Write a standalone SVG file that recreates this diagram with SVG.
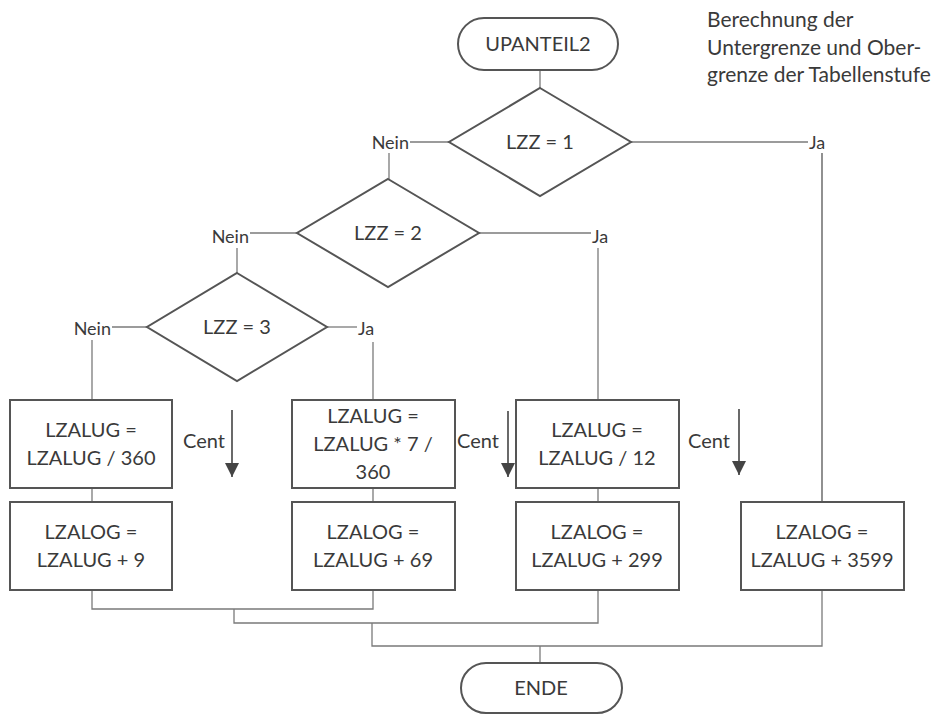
<svg xmlns="http://www.w3.org/2000/svg" width="943" height="715" viewBox="0 0 943 715">
<style>
  .shape { fill: #ffffff; stroke: #555555; stroke-width: 2; }
  .conn { fill: none; stroke: #7a7a7a; stroke-width: 1.3; }
  .t { font-family: Lato, "Open Sans", "Liberation Sans", sans-serif; font-size: 20px; fill: #3a3a3a; text-anchor: middle; }
  .lbl { font-family: Lato, "Open Sans", "Liberation Sans", sans-serif; font-size: 18px; fill: #3a3a3a; }
  .centlbl { font-family: Lato, "Open Sans", "Liberation Sans", sans-serif; font-size: 20px; fill: #3a3a3a; }
  .note { font-family: Lato, "Open Sans", "Liberation Sans", sans-serif; font-size: 21px; fill: #3a3a3a; }
  .cent { fill: none; stroke: #444444; stroke-width: 1.6; }
</style>
<defs>
  <marker id="ahc" viewBox="0 0 14 14" refX="14" refY="7" markerWidth="14" markerHeight="14" markerUnits="userSpaceOnUse" orient="auto">
    <path d="M0,0 L14,7 L0,14 Z" fill="#444444"/>
  </marker>
</defs>
<rect width="943" height="715" fill="#ffffff"/>

<g id="connectors">
  <line class="conn" x1="540" y1="70" x2="540" y2="88"/>
  <line class="conn" x1="410" y1="142" x2="449" y2="142"/>
  <line class="conn" x1="389" y1="153" x2="389" y2="179"/>
  <line class="conn" x1="631" y1="142" x2="808" y2="142"/>
  <line class="conn" x1="822" y1="153" x2="822" y2="502" style="stroke:#555"/>
  <line class="conn" x1="250" y1="233" x2="297" y2="233"/>
  <line class="conn" x1="237" y1="248" x2="237" y2="273"/>
  <line class="conn" x1="479" y1="233" x2="591" y2="233"/>
  <line class="conn" x1="598" y1="248" x2="598" y2="400"/>
  <line class="conn" x1="112" y1="327" x2="147" y2="327"/>
  <line class="conn" x1="92" y1="340" x2="92" y2="400"/>
  <line class="conn" x1="327" y1="327" x2="357" y2="327"/>
  <line class="conn" x1="373" y1="342" x2="373" y2="400"/>
  <line class="conn" x1="92" y1="488" x2="92" y2="502"/>
  <line class="conn" x1="373" y1="488" x2="373" y2="502"/>
  <line class="conn" x1="598" y1="488" x2="598" y2="502"/>
  <polyline class="conn" points="92,590 92,609 373,609 373,590"/>
  <polyline class="conn" points="234,609 234,623 598,623 598,590"/>
  <polyline class="conn" points="372,623 372,646 822,646 822,590"/>
  <line class="conn" x1="540" y1="646" x2="540" y2="663"/>
</g>

<g id="start">
  <rect class="shape" x="458" y="18" width="160" height="52" rx="26"/>
  <text class="t" x="538" y="51">UPANTEIL2</text>
</g>

<g id="note">
  <text class="note" x="707" y="27">Berechnung der</text>
  <text class="note" x="707" y="55">Untergrenze und Ober-</text>
  <text class="note" x="707" y="82">grenze der Tabellenstufe</text>
</g>

<g id="d1">
  <polygon class="shape" points="540,88 631,142 540,196 449,142"/>
  <text class="t" x="540" y="149">LZZ = 1</text>
  <text class="lbl" x="409" y="149" text-anchor="end">Nein</text>
  <text class="lbl" x="809" y="149">Ja</text>
</g>

<g id="d2">
  <polygon class="shape" points="388,179 479,233 388,287 297,233"/>
  <text class="t" x="388" y="240">LZZ = 2</text>
  <text class="lbl" x="249" y="243" text-anchor="end">Nein</text>
  <text class="lbl" x="592" y="243">Ja</text>
</g>

<g id="d3">
  <polygon class="shape" points="237,273 327,327 237,381 147,327"/>
  <text class="t" x="237" y="334">LZZ = 3</text>
  <text class="lbl" x="111" y="335" text-anchor="end">Nein</text>
  <text class="lbl" x="358" y="335">Ja</text>
</g>

<g id="a1">
  <rect class="shape" x="10" y="400" width="162" height="88"/>
  <text class="t" x="91" y="437">LZALUG =</text>
  <text class="t" x="91" y="465">LZALUG / 360</text>
</g>
<g id="a2">
  <rect class="shape" x="10" y="502" width="162" height="88"/>
  <text class="t" x="91" y="539">LZALOG =</text>
  <text class="t" x="91" y="567">LZALUG + 9</text>
</g>

<g id="b1">
  <rect class="shape" x="292" y="400" width="163" height="88"/>
  <text class="t" x="373" y="423">LZALUG =</text>
  <text class="t" x="373" y="451">LZALUG * 7 /</text>
  <text class="t" x="373" y="479">360</text>
</g>
<g id="b2">
  <rect class="shape" x="292" y="502" width="163" height="88"/>
  <text class="t" x="373" y="539">LZALOG =</text>
  <text class="t" x="373" y="567">LZALUG + 69</text>
</g>

<g id="c1">
  <rect class="shape" x="516" y="400" width="163" height="88"/>
  <text class="t" x="597" y="437">LZALUG =</text>
  <text class="t" x="597" y="465">LZALUG / 12</text>
</g>
<g id="c2">
  <rect class="shape" x="516" y="502" width="163" height="88"/>
  <text class="t" x="597" y="539">LZALOG =</text>
  <text class="t" x="597" y="567">LZALUG + 299</text>
</g>

<g id="d">
  <rect class="shape" x="741" y="502" width="163" height="88"/>
  <text class="t" x="822" y="539">LZALOG =</text>
  <text class="t" x="822" y="567">LZALUG + 3599</text>
</g>

<g id="cent1">
  <text class="centlbl" x="183" y="448">Cent</text>
  <line class="cent" x1="232" y1="410" x2="232" y2="477" marker-end="url(#ahc)"/>
</g>
<g id="cent2">
  <text class="centlbl" x="457" y="448">Cent</text>
  <line class="cent" x1="508" y1="411" x2="508" y2="477" marker-end="url(#ahc)"/>
</g>
<g id="cent3">
  <text class="centlbl" x="688" y="448">Cent</text>
  <line class="cent" x1="739" y1="409" x2="739" y2="475" marker-end="url(#ahc)"/>
</g>

<g id="end">
  <rect class="shape" x="461" y="663" width="161" height="50" rx="25"/>
  <text class="t" x="541" y="695">ENDE</text>
</g>
</svg>
